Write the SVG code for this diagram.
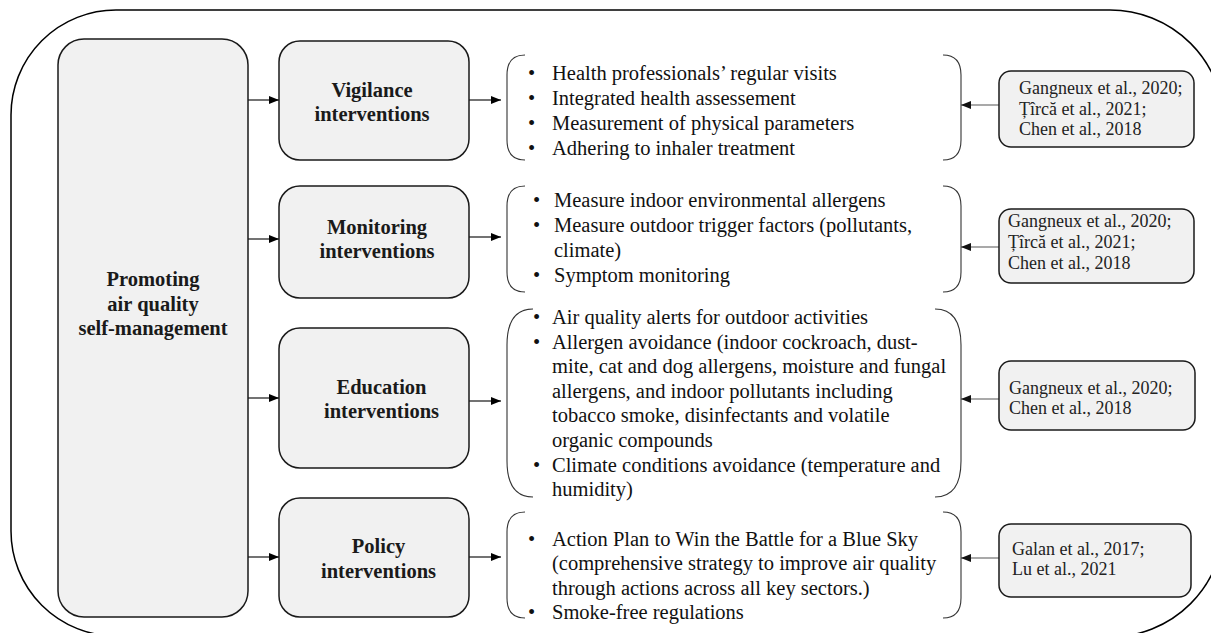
<svg xmlns="http://www.w3.org/2000/svg" width="1211" height="633" viewBox="0 0 1211 633">
  <defs>
    <marker id="arrow" markerUnits="userSpaceOnUse" markerWidth="10" markerHeight="8" refX="10" refY="4" orient="auto">
      <path d="M0,0 L10,4 L0,8 Z" fill="#000"/>
    </marker>
    <marker id="arrow-grey" markerUnits="userSpaceOnUse" markerWidth="10" markerHeight="8" refX="10" refY="4" orient="auto">
      <path d="M0,0 L10,4 L0,8 Z" fill="#111"/>
    </marker>
    <style>
      .frame { fill: none; stroke: #000; stroke-width: 1.5; }
      .box { fill: #f1f1f1; stroke: #1a1a1a; stroke-width: 1.5; }
      .ref { fill: #f1f1f1; stroke: #1a1a1a; stroke-width: 1.5; }
      .brace { fill: none; stroke: #333; stroke-width: 1.1; }
      .title { font-family: "Liberation Serif", "Times New Roman", serif; font-weight: bold; font-size: 20.5px; fill: #1a1a1a; text-anchor: middle; }
      .item { font-family: "Liberation Serif", "Times New Roman", serif; font-size: 20.5px; fill: #111; }
      .cite { font-family: "Liberation Serif", "Times New Roman", serif; font-size: 18px; fill: #222; }
      .link { fill: none; stroke: #000; stroke-width: 1.1; marker-end: url(#arrow); }
      .link-ref { fill: none; stroke: #555; stroke-width: 1.1; marker-end: url(#arrow-grey); }
    </style>
  </defs>

  <rect width="1211" height="633" fill="#fff"/>

  <!-- outer rounded frame, partly running off the canvas on the right and bottom -->
  <path class="frame" d="M11,115 A105,105 0 0 1 116,10 L1110,10 A114,114 0 0 1 1224,124 L1224,523 A114,114 0 0 1 1110,637 L116,636 A105,105 0 0 1 11,531 Z"/>

  <!-- connectors -->
  <g id="connectors">
    <line class="link" x1="248" y1="100" x2="279" y2="100"/>
    <line class="link" x1="248" y1="239" x2="279" y2="239"/>
    <line class="link" x1="248" y1="398" x2="279" y2="398"/>
    <line class="link" x1="248" y1="557" x2="279" y2="557"/>

    <line class="link" x1="469" y1="100" x2="501" y2="100"/>
    <line class="link" x1="469" y1="237" x2="501" y2="237"/>
    <line class="link" x1="469" y1="401" x2="501" y2="401"/>
    <line class="link" x1="469" y1="557" x2="501" y2="557"/>

    <line class="link-ref" x1="999" y1="105" x2="961" y2="105"/>
    <line class="link-ref" x1="999" y1="247" x2="961" y2="247"/>
    <line class="link-ref" x1="999" y1="399" x2="961" y2="399"/>
    <line class="link-ref" x1="999" y1="558" x2="961" y2="558"/>
  </g>

  <!-- root node -->
  <g id="promoting">
    <rect class="box" x="58" y="39" width="190" height="578" rx="26" ry="26"/>
    <text class="title" x="153" y="286">Promoting</text>
    <text class="title" x="153" y="311">air quality</text>
    <text class="title" x="153" y="335">self-management</text>
  </g>

  <!-- intervention categories -->
  <g id="vigilance">
    <rect class="box" x="279" y="41" width="190" height="119" rx="21" ry="21"/>
    <text class="title" x="372" y="97">Vigilance</text>
    <text class="title" x="372" y="121">interventions</text>
  </g>
  <g id="monitoring">
    <rect class="box" x="279" y="186" width="190" height="112" rx="21" ry="21"/>
    <text class="title" x="377" y="234">Monitoring</text>
    <text class="title" x="377" y="257.5">interventions</text>
  </g>
  <g id="education">
    <rect class="box" x="279" y="328" width="190" height="140" rx="21" ry="21"/>
    <text class="title" x="381.5" y="394">Education</text>
    <text class="title" x="381.5" y="418">interventions</text>
  </g>
  <g id="policy">
    <rect class="box" x="279" y="498" width="190" height="119" rx="21" ry="21"/>
    <text class="title" x="378.5" y="553">Policy</text>
    <text class="title" x="378.5" y="578">interventions</text>
  </g>

  <!-- bracketed item lists -->
  <g id="vigilance-items">
    <path class="brace" d="M525,55 Q507,55 507,75 L507,140 Q507,160 525,160"/>
    <path class="brace" d="M943,55 Q961,55 961,75 L961,140 Q961,160 943,160"/>
    <text class="item" x="528" y="80">•</text><text class="item" x="552" y="80">Health professionals’ regular visits</text>
    <text class="item" x="528" y="105">•</text><text class="item" x="552" y="105">Integrated health assessement</text>
    <text class="item" x="528" y="130">•</text><text class="item" x="552" y="130">Measurement of physical parameters</text>
    <text class="item" x="528" y="154.5">•</text><text class="item" x="552" y="154.5">Adhering to inhaler treatment</text>
  </g>
  <g id="monitoring-items">
    <path class="brace" d="M525,186 Q507,186 507,206 L507,272 Q507,292 525,292"/>
    <path class="brace" d="M943,186 Q961,186 961,206 L961,272 Q961,292 943,292"/>
    <text class="item" x="533" y="207">•</text><text class="item" x="554" y="207">Measure indoor environmental allergens</text>
    <text class="item" x="533" y="232">•</text><text class="item" x="554" y="232">Measure outdoor trigger factors (pollutants,</text>
    <text class="item" x="554" y="257">climate)</text>
    <text class="item" x="533" y="282">•</text><text class="item" x="554" y="282">Symptom monitoring</text>
  </g>
  <g id="education-items">
    <path class="brace" d="M533,309 Q507,309 507,345 L507,461 Q507,497 533,497"/>
    <path class="brace" d="M935,309 Q961,309 961,345 L961,461 Q961,497 935,497"/>
    <text class="item" x="533" y="324">•</text><text class="item" x="552" y="324">Air quality alerts for outdoor activities</text>
    <text class="item" x="533" y="348.6">•</text><text class="item" x="552" y="348.6">Allergen avoidance (indoor cockroach, dust-</text>
    <text class="item" x="552" y="373.2">mite, cat and dog allergens, moisture and fungal</text>
    <text class="item" x="552" y="397.8">allergens, and indoor pollutants including</text>
    <text class="item" x="552" y="422.4">tobacco smoke, disinfectants and volatile</text>
    <text class="item" x="552" y="447">organic compounds</text>
    <text class="item" x="533" y="471.6">•</text><text class="item" x="552" y="471.6">Climate conditions avoidance (temperature and</text>
    <text class="item" x="552" y="496.2">humidity)</text>
  </g>
  <g id="policy-items">
    <path class="brace" d="M525,512 Q507,512 507,532 L507,598 Q507,618 525,618"/>
    <path class="brace" d="M943,512 Q961,512 961,532 L961,598 Q961,618 943,618"/>
    <text class="item" x="528" y="545.5">•</text><text class="item" x="552" y="545.5">Action Plan to Win the Battle for a Blue Sky</text>
    <text class="item" x="552" y="570">(comprehensive strategy to improve air quality</text>
    <text class="item" x="552" y="594.5">through actions across all key sectors.)</text>
    <text class="item" x="528" y="619">•</text><text class="item" x="552" y="619">Smoke-free regulations</text>
  </g>

  <!-- supporting references -->
  <g id="refs-vigilance">
    <rect class="ref" x="999" y="71" width="195" height="76" rx="12" ry="12"/>
    <text class="cite" x="1019" y="94">Gangneux et al., 2020;</text>
    <text class="cite" x="1019" y="115">Țîrcă et al., 2021;</text>
    <text class="cite" x="1019" y="135">Chen et al., 2018</text>
  </g>
  <g id="refs-monitoring">
    <rect class="ref" x="999" y="209" width="195" height="74" rx="12" ry="12"/>
    <text class="cite" x="1008" y="226.5">Gangneux et al., 2020;</text>
    <text class="cite" x="1008" y="248">Țîrcă et al., 2021;</text>
    <text class="cite" x="1008" y="269">Chen et al., 2018</text>
  </g>
  <g id="refs-education">
    <rect class="ref" x="999" y="361" width="196" height="69" rx="12" ry="12"/>
    <text class="cite" x="1009" y="394">Gangneux et al., 2020;</text>
    <text class="cite" x="1009" y="413.5">Chen et al., 2018</text>
  </g>
  <g id="refs-policy">
    <rect class="ref" x="999" y="524" width="192" height="73" rx="12" ry="12"/>
    <text class="cite" x="1012" y="555">Galan et al., 2017;</text>
    <text class="cite" x="1012" y="575">Lu et al., 2021</text>
  </g>
</svg>
